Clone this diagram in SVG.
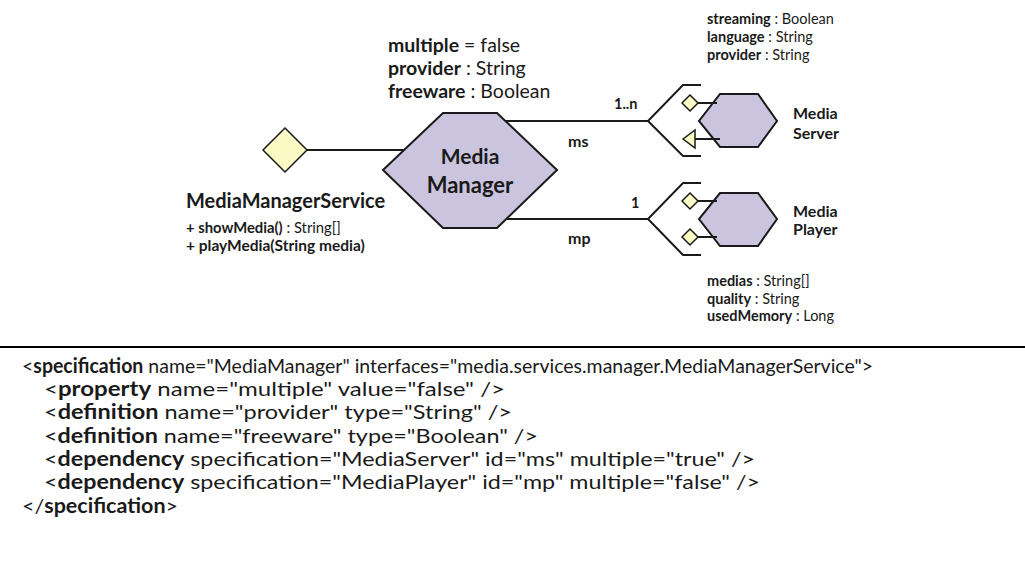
<svg xmlns="http://www.w3.org/2000/svg" width="1025" height="568" viewBox="0 0 1025 568">
<style>
text{font-family:Lato,"Open Sans",sans-serif;fill:#1a1a1a}
.b{font-weight:bold}
.hex{fill:#cbc4de;stroke:#1a1a1a;stroke-width:2}
.dia{fill:#fbf9c4;stroke:#1a1a1a;stroke-width:1.5}
.ln{fill:none;stroke:#1a1a1a;stroke-width:2}
.t14{font-size:14.5px}
.t16{font-size:16px}
.attr{font-size:19.5px}
.code{font-size:20px}
</style>
<rect width="1025" height="568" fill="#fff"/>

<g id="connectors">
<line class="ln" x1="307" y1="150" x2="404" y2="150"/>
<line class="ln" x1="505" y1="121" x2="648" y2="121"/>
<line class="ln" x1="507" y1="219" x2="648" y2="219"/>
</g>

<g id="MediaManagerService">
<polygon class="dia" points="285,128 307,150 285,172 263,150"/>
<text class="b" x="186" y="208" font-size="20">MediaManagerService</text>
<text x="186" y="233" font-size="14.8"><tspan class="b">+ showMedia()</tspan> : String[]</text>
<text x="186" y="251" font-size="15.5"><tspan class="b">+ playMedia(String media)</tspan></text>
</g>

<g id="MediaManager">
<polygon class="hex" points="443,113 497,113 557,170 497,228 443,228 383,170"/>
<text class="b" x="470" y="164" font-size="21" text-anchor="middle">Media</text>
<text class="b" x="470" y="193" font-size="22" text-anchor="middle">Manager</text>
<text class="attr" x="388" y="52"><tspan class="b">multiple</tspan> = false</text>
<text class="attr" x="388" y="75"><tspan class="b">provider</tspan> : String</text>
<text class="attr" x="388" y="98"><tspan class="b">freeware</tspan> : Boolean</text>
</g>

<g id="ms-label">
<text class="b t14" x="614" y="109">1..n</text>
<text class="b t16" x="568" y="147">ms</text>
</g>
<g id="mp-label">
<text class="b t14" x="631" y="208">1</text>
<text class="b t16" x="568" y="244">mp</text>
</g>

<g id="MediaServer">
<polyline class="ln" points="701,85 683,85 648,121 683,156 701,156"/>
<polygon class="hex" points="720,94 758,94 777,121 758,147 720,147 699,121"/>
<line class="ln" x1="698" y1="103" x2="717" y2="103"/>
<polygon class="dia" points="690,95 698,103 690,111 682,103"/>
<line class="ln" x1="695" y1="139" x2="720" y2="139"/>
<polygon class="dia" points="683,139 695,130 695,148"/>
<text class="b t16" x="793" y="119">Media</text>
<text class="b t16" x="793" y="139">Server</text>
<text class="t14" x="707" y="24"><tspan class="b">streaming</tspan> : Boolean</text>
<text class="t14" x="707" y="42"><tspan class="b">language</tspan> : String</text>
<text class="t14" x="707" y="60"><tspan class="b">provider</tspan> : String</text>
</g>

<g id="MediaPlayer">
<polyline class="ln" points="701,183 683,183 648,219 683,255 701,255"/>
<polygon class="hex" points="720,193 758,193 777,219 758,246 720,246 699,219"/>
<line class="ln" x1="698" y1="201" x2="717" y2="201"/>
<polygon class="dia" points="690,193 698,201 690,209 682,201"/>
<line class="ln" x1="698" y1="237" x2="717" y2="237"/>
<polygon class="dia" points="690,229 698,237 690,245 682,237"/>
<text class="b t16" x="793" y="217">Media</text>
<text class="b t16" x="793" y="235">Player</text>
<text class="t14" x="707" y="286"><tspan class="b">medias</tspan> : String[]</text>
<text class="t14" x="707" y="304"><tspan class="b">quality</tspan> : String</text>
<text class="t14" x="707" y="321"><tspan class="b">usedMemory</tspan> : Long</text>
</g>

<g id="code">
<line x1="0" y1="347" x2="1025" y2="347" stroke="#000" stroke-width="2"/>
<text class="code" x="22" y="373" textLength="851" lengthAdjust="spacingAndGlyphs">&lt;<tspan class="b">specification</tspan> name="MediaManager" interfaces="media.services.manager.MediaManagerService"&gt;</text>
<text class="code" x="44" y="396" textLength="461" lengthAdjust="spacingAndGlyphs">&lt;<tspan class="b">property</tspan> name="multiple" value="false" /&gt;</text>
<text class="code" x="44" y="419" textLength="468" lengthAdjust="spacingAndGlyphs">&lt;<tspan class="b">definition</tspan> name="provider" type="String" /&gt;</text>
<text class="code" x="44" y="443" textLength="494" lengthAdjust="spacingAndGlyphs">&lt;<tspan class="b">definition</tspan> name="freeware" type="Boolean" /&gt;</text>
<text class="code" x="44" y="466" textLength="711" lengthAdjust="spacingAndGlyphs">&lt;<tspan class="b">dependency</tspan> specification="MediaServer" id="ms" multiple="true" /&gt;</text>
<text class="code" x="44" y="489" textLength="716" lengthAdjust="spacingAndGlyphs">&lt;<tspan class="b">dependency</tspan> specification="MediaPlayer" id="mp" multiple="false" /&gt;</text>
<text class="code" x="22" y="513" textLength="156" lengthAdjust="spacingAndGlyphs">&lt;/<tspan class="b">specification</tspan>&gt;</text>
</g>
</svg>
